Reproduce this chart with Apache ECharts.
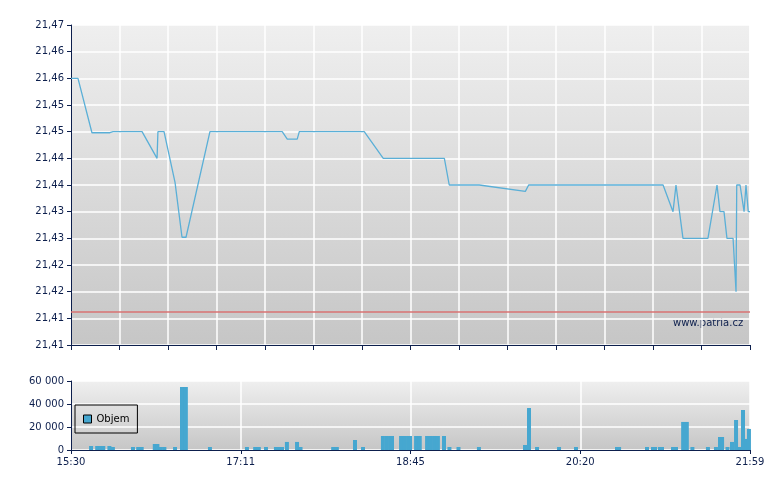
<!DOCTYPE html>
<html lang="cs">
<head>
    <meta charset="utf-8">
    <title>Patria intraday</title>
    <script src="https://cdn.jsdelivr.net/npm/echarts@6.0.0/dist/echarts.min.js"></script>
    <style>
        html, body {
            margin: 0;
            padding: 0;
            background: #fff;
        }
    </style>
</head>
<body>
<div id="chart" style="width: 780px; height: 490px;"></div>

<script>
    // time axis runs in minutes from 15:30 (0) to 21:59 (389)
    var timeLabels = ['15:30', '17:11', '18:45', '20:20', '21:59'];

    // price line
    var priceMinutes = [0, 4.0, 12.0, 22.3, 24.1, 40.7, 49.3, 49.8, 53.3, 59.6, 63.6, 65.9, 79.6,
        121.0, 123.9, 129.6, 130.8, 168.0, 178.9, 213.9, 216.7, 233.9, 260.3, 262.2,
        339.2, 344.9, 346.6, 350.6, 364.9, 370.1, 371.8, 374.1, 375.8, 379.3, 381.0,
        381.4, 383.3, 385.6, 386.7, 387.8, 388.0, 389];
    var prices = [21.46, 21.46, 21.4498, 21.4498, 21.45, 21.45, 21.445, 21.45, 21.45, 21.4405, 21.4302, 21.4302, 21.45,
        21.45, 21.4486, 21.4486, 21.45, 21.45, 21.445, 21.445, 21.44, 21.44, 21.4388, 21.44,
        21.44, 21.435, 21.44, 21.43, 21.43, 21.44, 21.435, 21.435, 21.43, 21.43, 21.42,
        21.44, 21.44, 21.435, 21.44, 21.44, 21.435, 21.435];
    var prevClose = 21.4162;

    // volume bars
    var volMinutes = [11.5, 15, 17, 18.5, 22, 24, 35.5, 38.5, 40.5, 48, 49.5, 51.5, 53.5, 59.6, 63.6, 65.8,
        79.6, 100.8, 105.5, 107.6, 111.7, 117.4, 119.2, 120.9, 123.7, 129.5, 131.5, 150.2, 152.3,
        162.7, 167.3, 178.7, 180.8, 182.8, 183.9, 189.1, 191.1, 193.1, 194.2, 197.7, 199.8,
        204, 206, 208, 210.2, 213.7, 216.8, 222, 233.7, 260.1, 262.4, 267, 279.6, 289.3,
        312.8, 314, 330, 333.4, 334.6, 337.4, 338.6, 344.9, 346.6, 350.7, 352.8, 356,
        364.9, 369.5, 371.8, 373, 376.1, 378.7, 381, 383, 385, 387, 388.4];
    var volumes = [3500, 3500, 3500, 3500, 3500, 2600, 2600, 2600, 2600, 5200, 5200, 2600, 2600, 2600, 54800, 54800,
        2600, 2600, 2600, 2600, 2600, 2600, 2600, 2600, 7000, 7000, 2600, 2600, 2600,
        8700, 2600, 12200, 12200, 12200, 12200, 12200, 12200, 12200, 12200, 12200, 12200,
        12200, 12200, 12200, 12200, 12200, 2600, 2600, 2600, 4350, 36500, 2600, 2600, 2600,
        2600, 2600, 2600, 2600, 2600, 2600, 2600, 2600, 2600, 24400, 24400, 2600,
        2600, 2600, 11300, 11300, 2600, 7000, 26100, 2600, 34800, 9600, 18300];

    var navy = '#0d1f4d';
    var font = 'DejaVu Sans';

    function zip(a, b) {
        return a.map(function (v, i) { return [v, b[i]]; });
    }

    function bg() {
        return new echarts.graphic.LinearGradient(0, 0, 0, 1, [
            {offset: 0, color: '#efefef'},
            {offset: 1, color: '#c6c6c6'}
        ]);
    }

    var axisLine = {show: true, lineStyle: {color: navy, width: 1}};
    var splitLine = {show: true, lineStyle: {color: '#ffffff', width: 1.5}};
    var labelStyle = {color: navy, fontFamily: font, fontSize: 10};

    var myChart = echarts.init(document.getElementById('chart'));

    var option = {
        animation: false,
        backgroundColor: '#ffffff',
        grid: [
            {left: 71, top: 25, width: 679, height: 320, show: true, borderWidth: 0, backgroundColor: bg()},
            {left: 71, top: 381, width: 679, height: 69, show: true, borderWidth: 0, backgroundColor: bg()}
        ],
        legend: {
            data: ['Objem'],
            left: 75,
            top: 405,
            orient: 'vertical',
            padding: [9, 8, 9, 8],
            borderColor: '#000',
            borderWidth: 1,
            icon: 'rect',
            itemWidth: 8,
            itemHeight: 8,
            itemStyle: {borderColor: '#000', borderWidth: 1},
            textStyle: {color: '#000', fontFamily: font, fontSize: 10}
        },
        xAxis: [
            {
                gridIndex: 0, type: 'value', min: 0, max: 389, interval: 389 / 14,
                axisLine: axisLine,
                axisTick: {show: true, length: 5, lineStyle: {color: navy}},
                axisLabel: {show: false},
                splitLine: splitLine
            },
            {
                gridIndex: 1, type: 'value', min: 0, max: 389, interval: 389 / 4,
                axisLine: axisLine,
                axisTick: {show: true, length: 4, lineStyle: {color: navy}},
                axisLabel: Object.assign({
                    margin: 7,
                    formatter: function (v) { return timeLabels[Math.round(v / (389 / 4))]; }
                }, labelStyle),
                splitLine: splitLine
            }
        ],
        yAxis: [
            {
                gridIndex: 0, type: 'value', min: 21.41, max: 21.47, interval: 0.005,
                axisLine: axisLine,
                axisTick: {show: true, length: 4, lineStyle: {color: navy}},
                axisLabel: Object.assign({
                    margin: 7,
                    formatter: function (v) {
                        return (Math.floor(v * 100 + 1e-6) / 100).toFixed(2).replace('.', ',');
                    }
                }, labelStyle),
                splitLine: splitLine
            },
            {
                gridIndex: 1, type: 'value', min: 0, max: 60000, interval: 20000,
                axisLine: axisLine,
                axisTick: {show: true, length: 4, lineStyle: {color: navy}},
                axisLabel: Object.assign({
                    margin: 7,
                    formatter: function (v) {
                        return String(v).replace(/\B(?=(\d{3})+(?!\d))/g, ' ');
                    }
                }, labelStyle),
                splitLine: splitLine
            }
        ],
        series: [
            {
                name: 'Cena',
                type: 'line',
                xAxisIndex: 0,
                yAxisIndex: 0,
                data: zip(priceMinutes, prices),
                symbol: 'none',
                lineStyle: {color: '#5aafd7', width: 1.3},
                markLine: {
                    silent: true,
                    symbol: 'none',
                    precision: 4,
                    label: {show: false},
                    lineStyle: {color: '#d97272', width: 1.5, type: 'solid'},
                    data: [{yAxis: prevClose}]
                }
            },
            {
                name: 'Objem',
                type: 'bar',
                xAxisIndex: 1,
                yAxisIndex: 1,
                data: zip(volMinutes, volumes),
                barWidth: 4,
                itemStyle: {color: '#46a7d0'}
            }
        ],
        graphic: [
            {
                type: 'text',
                left: 673,
                top: 318,
                style: {text: 'www.patria.cz', fill: navy, font: '10px "DejaVu Sans"'}
            }
        ]
    };

    myChart.setOption(option);
</script>
</body>
</html>
